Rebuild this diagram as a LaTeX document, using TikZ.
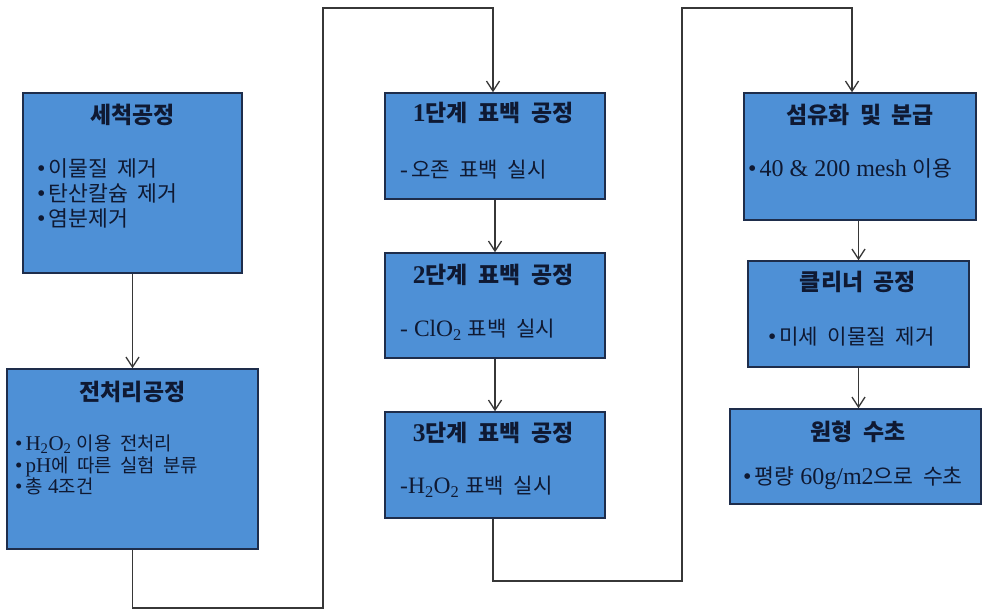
\documentclass[tikz,border=0pt]{standalone}
\usepackage{fontspec}
\setmainfont{Liberation Serif}
\newfontfamily\kr{Noto Sans CJK KR}[Scale=0.9, WordSpace=2]
\usetikzlibrary{arrows.meta}
\definecolor{boxfill}{RGB}{78,144,214}
\definecolor{boxline}{RGB}{30,45,75}
\definecolor{txt}{RGB}{15,25,50}
\definecolor{wire}{RGB}{55,55,55}
\newcommand\K[1]{{\kr #1}}
\newcommand\bul{\textbullet\hspace{3pt}}
\begin{document}
\begin{tikzpicture}[x=1pt,y=-1pt,
  pbox/.style={draw=boxline, fill=boxfill, line width=1.5pt, rectangle, inner sep=0pt},
  ttl/.style={text=txt, inner sep=0pt, font=\fontsize{25.5}{28}\selectfont\bfseries},
  body/.style={text=txt, inner sep=0pt, align=left, anchor=west},
  conn/.style={draw=wire, line width=1.3pt, -{Straight Barb[length=10pt,width=13pt]}}
]
\useasboundingbox (0,0) rectangle (982,611);
\fill[white] (0,0) rectangle (982,611);

% boxes
\node[pbox, minimum width=219pt, minimum height=180pt] (b1) at (132.5,183) {};
\node[pbox, minimum width=251pt, minimum height=180pt] (b2) at (132.5,459) {};
\node[pbox, minimum width=220pt, minimum height=106pt] (b3) at (495,146) {};
\node[pbox, minimum width=220pt, minimum height=105pt] (b4) at (495,305.5) {};
\node[pbox, minimum width=220pt, minimum height=106pt] (b5) at (495,465) {};
\node[pbox, minimum width=232pt, minimum height=127pt] (b6) at (860,156.5) {};
\node[pbox, minimum width=221pt, minimum height=106pt] (b7) at (858.5,314) {};
\node[pbox, minimum width=251pt, minimum height=95pt] (b8) at (855.5,456.5) {};

% titles
\node[ttl] (t1) at (132.5,115) {\K{세척공정}};
\node[ttl] (t2) at (132.5,392) {\K{전처리공정}};
\node[ttl] (t3) at (493,113) {1\K{단계 표백 공정}};
\node[ttl] (t4) at (493,275) {2\K{단계 표백 공정}};
\node[ttl] (t5) at (493,433) {3\K{단계 표백 공정}};
\node[ttl] (t6) at (860,115) {\K{섬유화 및 분급}};
\node[ttl] (t7) at (858,282) {\K{클리너 공정}};
\node[ttl] (t8) at (858,432) {\K{원형 수초}};

% bodies
\node[body, font=\fontsize{24}{25}\selectfont] (d1) at (37,193)
  {\bul\K{이물질 제거}\\ \bul\K{탄산칼슘 제거}\\ \bul\K{염분제거}};
\node[body, font=\fontsize{21}{21.5}\selectfont] (d2) at (15,465)
  {\bul H\textsubscript{2}O\textsubscript{2} \K{이용 전처리}\\ \bul pH\K{에 따른 실험 분류}\\ \bul\K{총} 4\K{조건}};
\node[body, font=\fontsize{23.5}{26}\selectfont] (d3) at (400,170) {-\hspace{3pt}\K{오존 표백 실시}};
\node[body, font=\fontsize{23.5}{26}\selectfont] (d4) at (400,330) {-\hspace{6pt}ClO\textsubscript{2} \K{표백 실시}};
\node[body, font=\fontsize{23.5}{26}\selectfont] (d5) at (400,487) {-H\textsubscript{2}O\textsubscript{2} \K{표백 실시}};
\node[body, font=\fontsize{24}{26}\selectfont] (d6) at (748,168) {\bul 40 \& 200 mesh \K{이용}};
\node[body, font=\fontsize{23.5}{26}\selectfont] (d7) at (768,337) {\bul\K{미세 이물질 제거}};
\node[body, font=\fontsize{24}{26}\selectfont] (d8) at (743,478) {\bul\K{평량} 60g/m2\K{으로 수초}};

% connectors
\coordinate (p2) at (323,608);
\coordinate (p3) at (323,8);
\coordinate (p4) at (493,8);
\coordinate (q1) at (493,581);
\coordinate (q2) at (682,581);
\coordinate (q3) at (682,8);
\coordinate (q4) at (852,8);

\draw[conn] (b1.south) -- (b2.north);
\draw[conn] (b2.south) -- (b2.south |- p2) -- (p2) -- (p3) -- (p4) -- (p4 |- b3.north);
\draw[conn] (b3.south) -- (b4.north);
\draw[conn] (b4.south) -- (b5.north);
\draw[conn] (q1 |- b5.south) -- (q1) -- (q2) -- (q3) -- (q4) -- (q4 |- b6.north);
\draw[conn] (b7.north |- b6.south) -- (b7.north);
\draw[conn] (b7.south) -- (b7.south |- b8.north);
\end{tikzpicture}
\end{document}
